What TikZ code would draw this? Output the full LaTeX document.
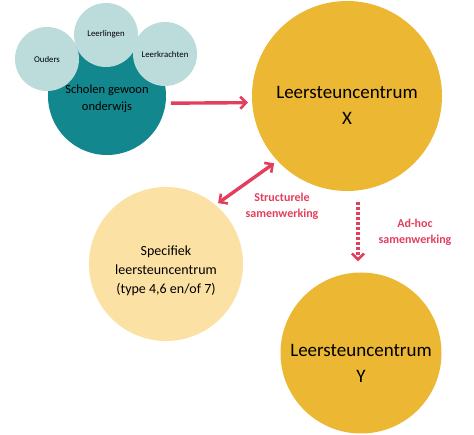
\documentclass[tikz,border=0pt]{standalone}
\usepackage{fontspec}
\setmainfont{Carlito}
\usetikzlibrary{arrows.meta}
\definecolor{teal1}{HTML}{12878D}
\definecolor{tealL}{HTML}{BCDCDC}
\definecolor{gold}{HTML}{ECB733}
\definecolor{pale}{HTML}{FCE1A4}
\definecolor{redc}{HTML}{E23F5D}
\tikzset{
  circ/.style={circle,inner sep=0pt,align=center,text=black},
  small/.style={circ,fill=tealL,minimum size=64pt,font=\fontsize{8.8}{10}\selectfont},
  bigtxt/.style={align=center,text=black,inner sep=0pt,font=\fontsize{19}{26}\selectfont},
  lbl/.style={align=center,text=redc,font=\bfseries\fontsize{12}{16}\selectfont},
  redarrow/.style={draw=redc,line width=3.4pt,-{Straight Barb[length=6pt,width=12pt,line width=2.6pt]}},
}
\begin{document}
\begin{tikzpicture}[x=1pt,y=-1pt]
\useasboundingbox (0,0) rectangle (474,435);
\node[circ,fill=teal1,minimum size=118pt] (teal) at (107,96) {};
\node[small] (ouders) at (47,59) {Ouders};
\node[small] (leerl) at (106,35) {\raisebox{3pt}{Leerlingen}};
\node[small] (leerk) at (165,54) {Leerkrachten};
\node[align=center,font=\fontsize{12.5}{17}\selectfont,text=black] (tealtxt) at (107,99) {Scholen gewoon\\onderwijs};
\node[circ,fill=gold,minimum size=190pt] (X) at (347,96) {};
\node[bigtxt] (Xtxt) at (347,105) {Leersteuncentrum\\X};
\node[circ,fill=gold,minimum size=161pt] (Y) at (361,353) {};
\node[bigtxt] (Ytxt) at (361,363) {Leersteuncentrum\\Y};
\node[circ,fill=pale,minimum size=154pt] (spec) at (166,264) {};
\node[align=center,text=black,font=\fontsize{14}{19}\selectfont] (spectxt) at (166,271) {Specifiek\\leersteuncentrum\\(type 4,6 en/of 7)};
\draw[redarrow,shorten <=5pt,shorten >=4pt] (teal.-7) -- (X.184);
\draw[redarrow,{Straight Barb[length=6pt,width=12pt,line width=2.6pt]}-{Straight Barb[length=6pt,width=12pt,line width=2.6pt]},shorten <=3pt,shorten >=4pt] (spec.50) -- (X.223);
\draw[redarrow,dash pattern=on 2.5pt off 2.5pt] ([xshift=11pt,yshift=-11pt]X.south) -- ([xshift=-3pt,yshift=11pt]Y.north);
\node[lbl] (l1) at (282,206) {Structurele\\samenwerking};
\node[lbl] (l2) at (415,232) {Ad-hoc\\samenwerking};
\end{tikzpicture}
\end{document}
